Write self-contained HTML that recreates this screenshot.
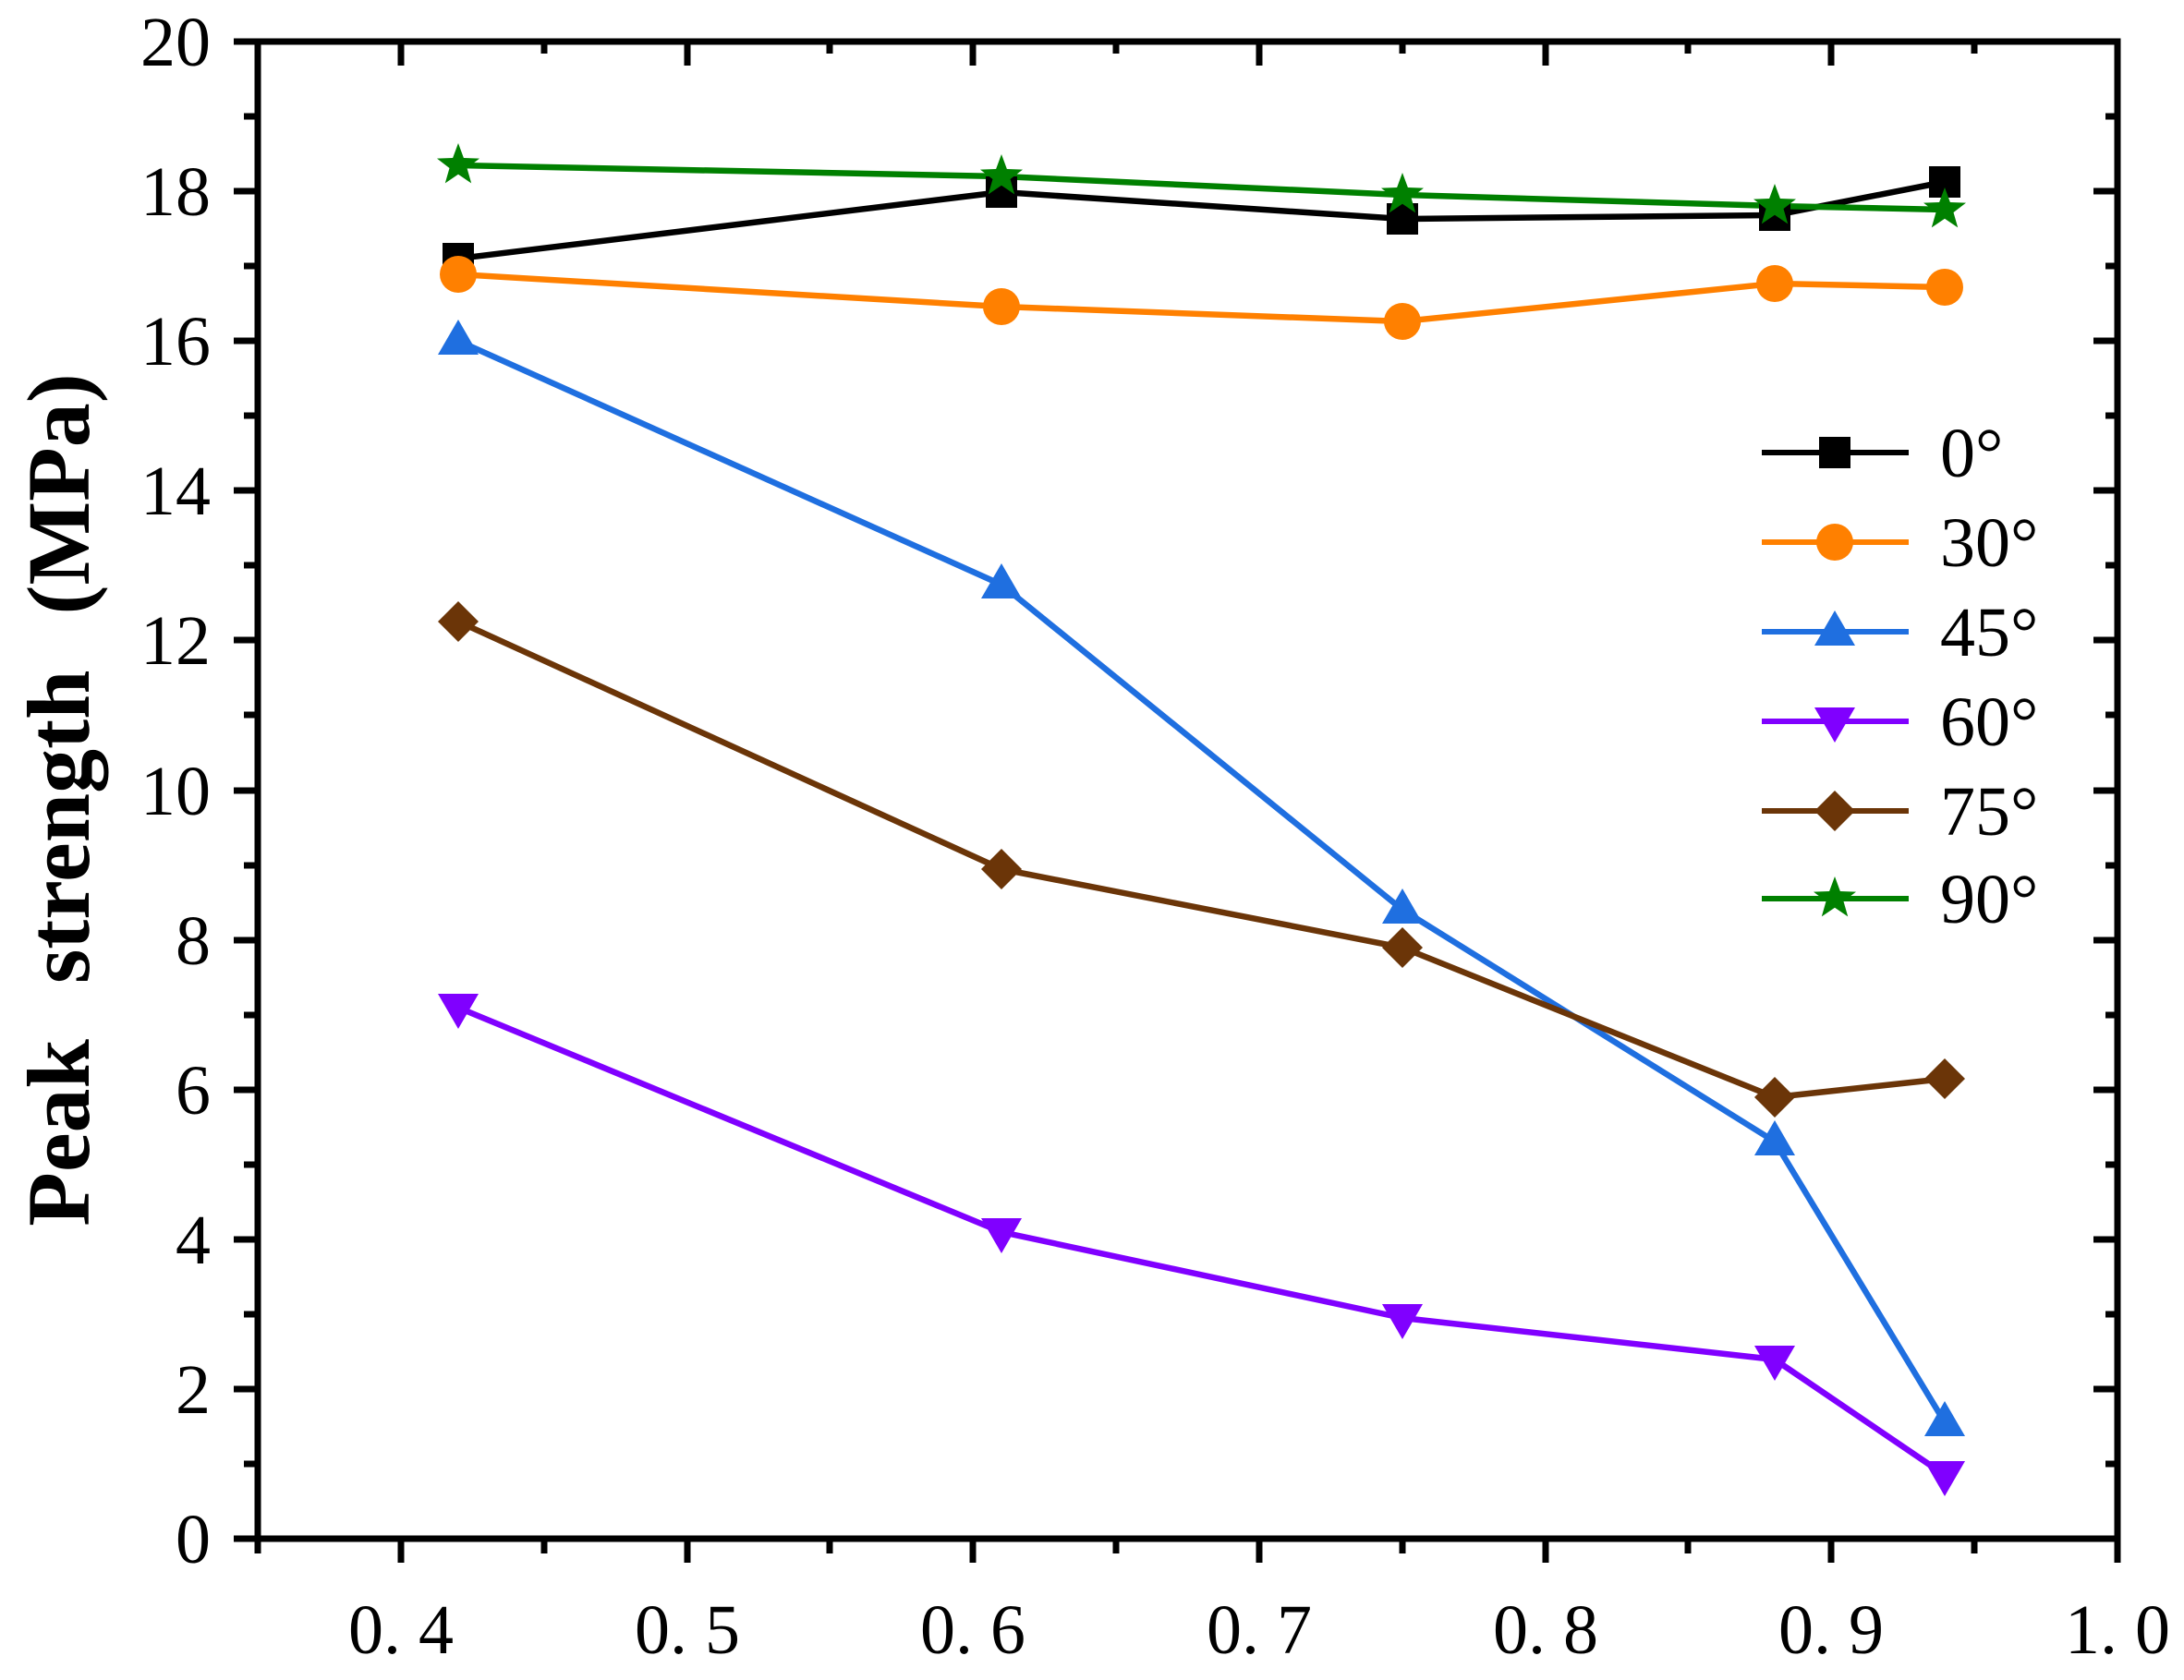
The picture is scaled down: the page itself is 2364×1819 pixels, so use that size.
<!DOCTYPE html>
<html><head><meta charset="utf-8"><style>html,body{margin:0;padding:0;background:#fff}svg{display:block}</style></head>
<body>
<svg width="2364" height="1819" viewBox="0 0 2364 1819" xmlns="http://www.w3.org/2000/svg">
<defs>
<g id="sq"><rect x="-17" y="-17" width="34" height="34" fill="#000"/></g>
<g id="ci"><circle r="20" fill="#ff8000"/></g>
<g id="tu"><polygon points="0,-23 22,15 -22,15" fill="#1f6fe0"/></g>
<g id="td"><polygon points="0,23 22,-15 -22,-15" fill="#8000ff"/></g>
<g id="di"><polygon points="0,-22 22,0 0,22 -22,0" fill="#6b3508"/></g>
<g id="st"><polygon points="0,-24 5.9,-8 23,-7.4 9.5,3 14.2,19.4 0,9.8 -14.2,19.4 -9.5,3 -23,-7.4 -5.9,-8" fill="#008000"/></g>
</defs>
<g fill="none" stroke-width="6.5" stroke-linejoin="round">
<polyline stroke="#000" points="496,280 1084,208 1518,237 1921,233 2105,197"/>
<polyline stroke="#ff8000" points="496,297 1084,332 1518,348 1921,307 2105,311"/>
<polyline stroke="#1f6fe0" points="496,369 1084,633 1518,985 1921,1236 2105,1540"/>
<polyline stroke="#8000ff" points="496,1091 1084,1334 1518,1427 1921,1472 2105,1597"/>
<polyline stroke="#6b3508" points="496,673 1084,941 1518,1026 1921,1188 2105,1168"/>
<polyline stroke="#008000" points="496,179 1084,191 1518,211 1921,223 2105,227"/>
</g>
<g>
<use href="#sq" x="496" y="280"/><use href="#sq" x="1084" y="208"/><use href="#sq" x="1518" y="237"/><use href="#sq" x="1921" y="233"/><use href="#sq" x="2105" y="197"/>
<use href="#ci" x="496" y="297"/><use href="#ci" x="1084" y="332"/><use href="#ci" x="1518" y="348"/><use href="#ci" x="1921" y="307"/><use href="#ci" x="2105" y="311"/>
<use href="#tu" x="496" y="369"/><use href="#tu" x="1084" y="633"/><use href="#tu" x="1518" y="985"/><use href="#tu" x="1921" y="1236"/><use href="#tu" x="2105" y="1540"/>
<use href="#td" x="496" y="1091"/><use href="#td" x="1084" y="1334"/><use href="#td" x="1518" y="1427"/><use href="#td" x="1921" y="1472"/><use href="#td" x="2105" y="1597"/>
<use href="#di" x="496" y="673"/><use href="#di" x="1084" y="941"/><use href="#di" x="1518" y="1026"/><use href="#di" x="1921" y="1188"/><use href="#di" x="2105" y="1168"/>
<use href="#st" x="496" y="179"/><use href="#st" x="1084" y="191"/><use href="#st" x="1518" y="211"/><use href="#st" x="1921" y="223"/><use href="#st" x="2105" y="227"/>
</g>
<rect x="279" y="45" width="2013" height="1621" fill="none" stroke="#000" stroke-width="7"/>
<g stroke="#000" stroke-width="7">
<path d="M434,1666v26M744,1666v26M1053,1666v26M1363,1666v26M1673,1666v26M1982,1666v26M2292,1666v26
M434,45v26M744,45v26M1053,45v26M1363,45v26M1673,45v26M1982,45v26"/>
<path d="M279,1666v16M589,1666v16M898,1666v16M1208,1666v16M1518,1666v16M1827,1666v16M2137,1666v16
M589,45v13M898,45v13M1208,45v13M1518,45v13M1827,45v13M2137,45v13"/>
<path d="M279,1666h-26M279,1504h-26M279,1342h-26M279,1180h-26M279,1018h-26M279,856h-26M279,693h-26M279,531h-26M279,369h-26M279,207h-26M279,45h-26
M2292,1504h-26M2292,1342h-26M2292,1180h-26M2292,1018h-26M2292,856h-26M2292,693h-26M2292,531h-26M2292,369h-26M2292,207h-26"/>
<path d="M279,1585h-15M279,1423h-15M279,1261h-15M279,1099h-15M279,937h-15M279,774h-15M279,612h-15M279,450h-15M279,288h-15M279,126h-15
M2292,1585h-13M2292,1423h-13M2292,1261h-13M2292,1099h-13M2292,937h-13M2292,774h-13M2292,612h-13M2292,450h-13M2292,288h-13M2292,126h-13"/>
</g>
<g font-family="Liberation Serif, serif" font-size="76" fill="#000">
<g text-anchor="middle">
<text x="434" y="1790">0. 4</text><text x="744" y="1790">0. 5</text><text x="1053" y="1790">0. 6</text>
<text x="1363" y="1790">0. 7</text><text x="1673" y="1790">0. 8</text><text x="1982" y="1790">0. 9</text><text x="2292" y="1790">1. 0</text>
</g>
<g text-anchor="end">
<text x="228" y="1692">0</text><text x="228" y="1530">2</text><text x="228" y="1368">4</text><text x="228" y="1206">6</text>
<text x="228" y="1044">8</text><text x="228" y="882">10</text><text x="228" y="719">12</text><text x="228" y="557">14</text>
<text x="228" y="395">16</text><text x="228" y="233">18</text><text x="228" y="71">20</text>
</g>
<text transform="translate(96,866) rotate(-90)" text-anchor="middle" font-weight="bold" font-size="96" word-spacing="36">Peak strength (MPa)</text>
</g>
<g stroke-width="6">
<line x1="1907" y1="490" x2="2066" y2="490" stroke="#000"/>
<line x1="1907" y1="587" x2="2066" y2="587" stroke="#ff8000"/>
<line x1="1907" y1="684" x2="2066" y2="684" stroke="#1f6fe0"/>
<line x1="1907" y1="781" x2="2066" y2="781" stroke="#8000ff"/>
<line x1="1907" y1="878" x2="2066" y2="878" stroke="#6b3508"/>
<line x1="1907" y1="973" x2="2066" y2="973" stroke="#008000"/>
</g>
<use href="#sq" x="1986" y="490"/><use href="#ci" x="1986" y="587"/><use href="#tu" x="1986" y="684"/>
<use href="#td" x="1986" y="781"/><use href="#di" x="1986" y="878"/><use href="#st" x="1986" y="973"/>
<g font-family="Liberation Serif, serif" font-size="76" fill="#000">
<text x="2100" y="516">0°</text><text x="2100" y="613">30°</text><text x="2100" y="710">45°</text>
<text x="2100" y="807">60°</text><text x="2100" y="904">75°</text><text x="2100" y="999">90°</text>
</g>
</svg>
</body></html>
